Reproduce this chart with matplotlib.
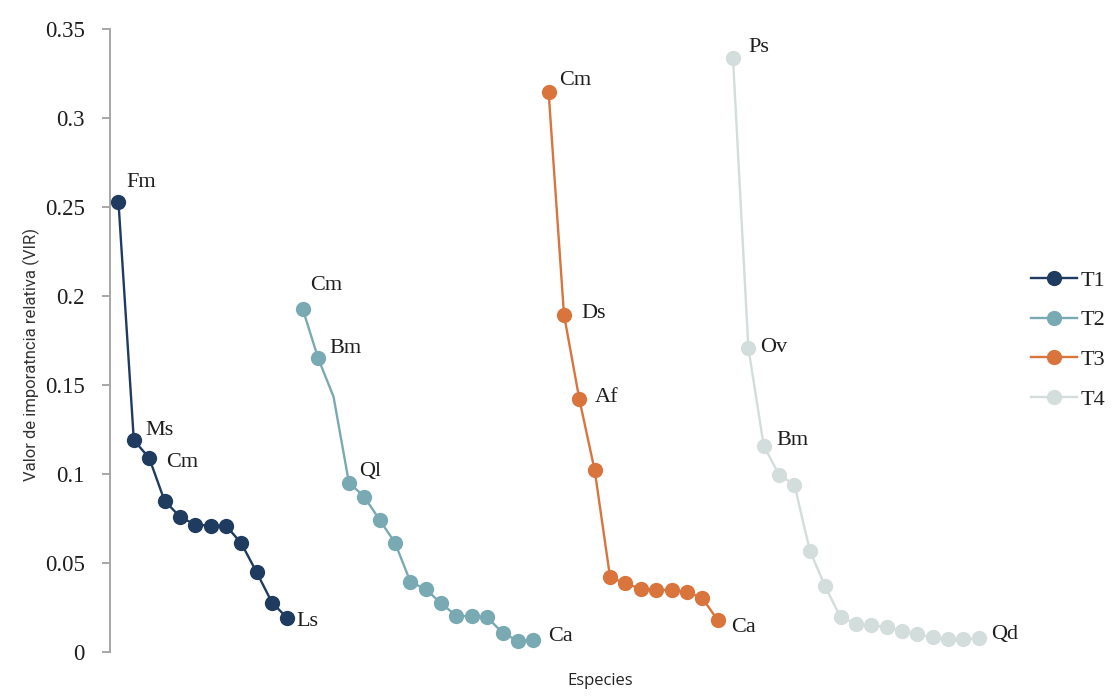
import numpy as np
import matplotlib
matplotlib.use("Agg")
import matplotlib.pyplot as plt
from matplotlib.lines import Line2D

# Relative importance value (VIR) per species, ordered from most to least important
t1_values = [0.253, 0.119, 0.109, 0.085, 0.076, 0.0715, 0.071, 0.071, 0.061, 0.0447, 0.0277, 0.019]
t2_values = [0.1925, 0.165, 0.1434, 0.0952, 0.0872, 0.0742, 0.0614, 0.0395, 0.0352, 0.0274,
             0.0202, 0.0202, 0.0195, 0.0108, 0.0063, 0.0066]
t3_values = [0.3145, 0.1895, 0.142, 0.102, 0.042, 0.0385, 0.0355, 0.035, 0.0348, 0.0337, 0.0303, 0.018]
t4_values = [0.3335, 0.171, 0.116, 0.0995, 0.094, 0.057, 0.0368, 0.0196, 0.016, 0.015, 0.014,
             0.012, 0.010, 0.0082, 0.0072, 0.0072, 0.0076]

series_names = ["T1", "T2", "T3", "T4"]

# Species codes labelled on each curve: (position within the series, code)
t1_labels = [(0, "Fm"), (1, "Ms"), (2, "Cm"), (11, "Ls")]
t2_labels = [(0, "Cm"), (1, "Bm"), (3, "Ql"), (15, "Ca")]
t3_labels = [(0, "Cm"), (1, "Ds"), (2, "Af"), (11, "Ca")]
t4_labels = [(0, "Ps"), (1, "Ov"), (2, "Bm"), (16, "Qd")]

# Points of T2 drawn on the line only (no marker)
t2_unmarked = [2]

# ---- styling ----
colors = ["#1f3b5f", "#79a9b3", "#d8743c", "#d3dddb"]
label_offsets = [
    [(8, 19), (12, 10), (17, -5), (9, -3)],
    [(7, 24), (11, 10), (10, 11), (15, 4)],
    [(11, 12), (17, 1), (15, 2), (14, -8)],
    [(15, 11), (12, 0), (13, 5), (12, 4)],
]

serif = "Liberation Serif"
text_color = "#1e1e1e"
axis_gray = "#a6a6a6"

fig = plt.figure(figsize=(11.19, 6.98), dpi=100)
ax = fig.add_axes([0.0983, 0.0659, 0.797, 0.8926])

all_values = [t1_values, t2_values, t3_values, t4_values]
all_labels = [t1_labels, t2_labels, t3_labels, t4_labels]

start = 0
for k, (vals, labs) in enumerate(zip(all_values, all_labels)):
    x = np.arange(start, start + len(vals))
    y = np.asarray(vals)
    marked = [i for i in range(len(vals)) if not (k == 1 and i in t2_unmarked)]
    ax.plot(x, y, color=colors[k], lw=1.7, marker="o", markersize=11,
            markevery=marked, markeredgewidth=0, clip_on=False, zorder=3)
    for (idx, code), off in zip(labs, label_offsets[k]):
        ax.annotate(code, (x[idx], y[idx]), xytext=off, textcoords="offset pixels",
                    ha="left", va="center", fontsize=16, family=serif, color=text_color)
    start += len(vals)

ax.set_xlim(-0.55, 57.5)
ax.set_ylim(0, 0.35)
ax.set_yticks(np.arange(0, 0.351, 0.05))
ax.set_yticklabels(["0", "0.05", "0.1", "0.15", "0.2", "0.25", "0.3", "0.35"],
                   family=serif, fontsize=16.5, color=text_color)
ax.set_xticks([])
for side in ["top", "right", "bottom"]:
    ax.spines[side].set_visible(False)
ax.spines["left"].set_color(axis_gray)
ax.spines["left"].set_linewidth(1.4)
ax.tick_params(axis="y", length=6, width=1.4, color=axis_gray, pad=12)

ax.set_ylabel("Valor de imporatncia relativa (VIR)", family="Roboto", fontsize=12,
              color="#333333")
ax.yaxis.set_label_coords(-0.078, 0.478)
fig.text(0.536, 0.025, "Especies", family="Open Sans", fontsize=12, color="#222222",
         ha="center", va="center")

handles = [Line2D([], [], color=c, lw=1.7, marker="o", markersize=11, markeredgewidth=0)
           for c in colors]
fig.legend(handles, series_names, loc="center left", bbox_to_anchor=(0.921, 0.513),
           frameon=False, prop={"family": serif, "size": 16}, labelspacing=0.86,
           handlelength=2.1, handletextpad=0.15, borderaxespad=0, borderpad=0,
           labelcolor=text_color)

fig.savefig("out.png", dpi=100, facecolor="white")
